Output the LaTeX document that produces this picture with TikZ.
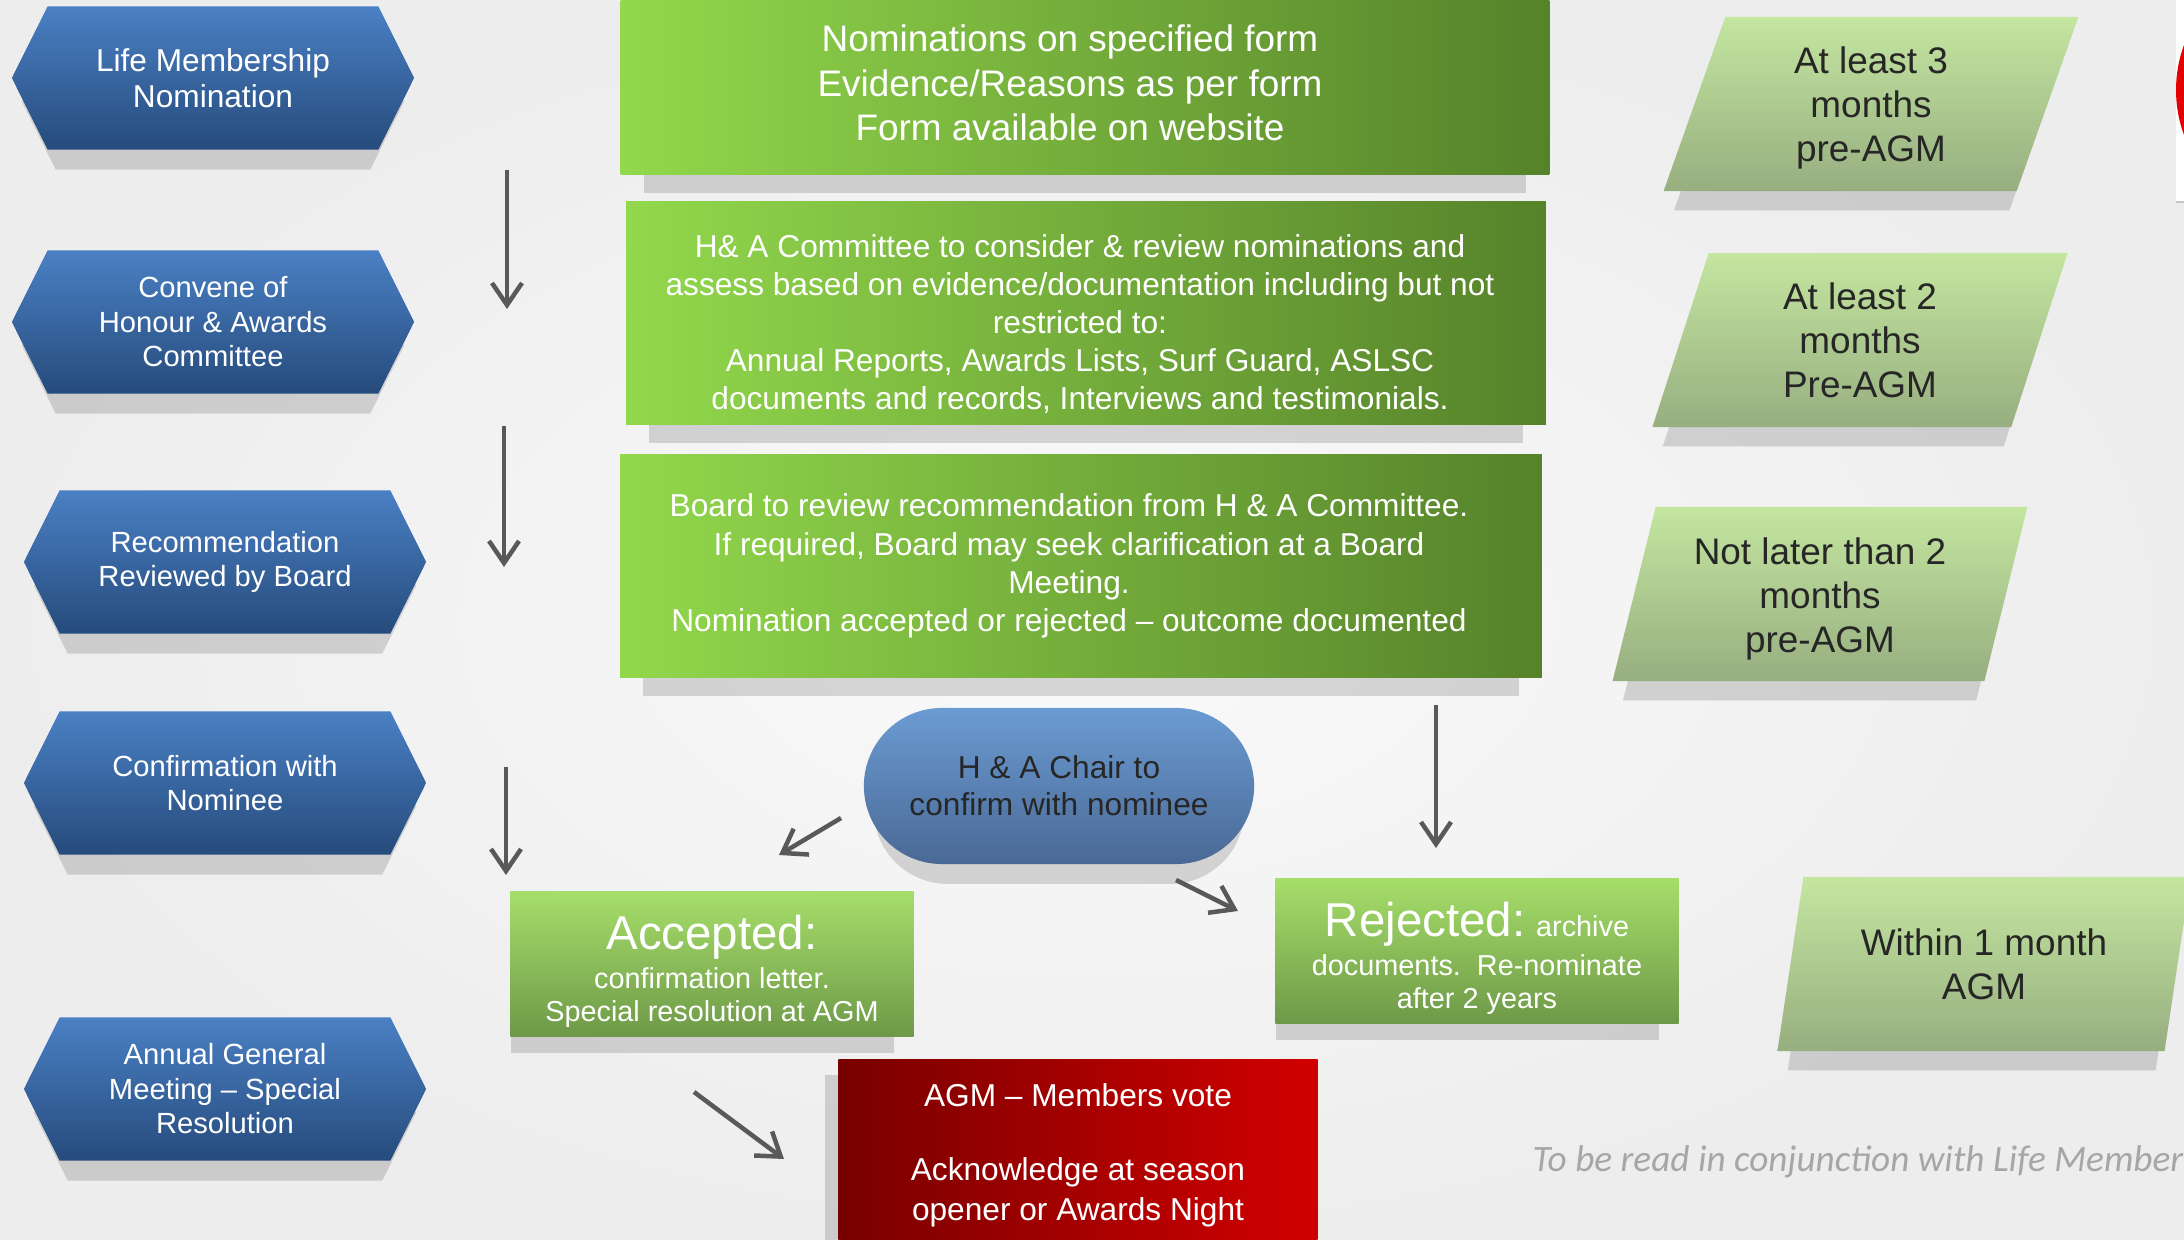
\documentclass[tikz,border=0pt]{standalone}
\usepackage{fontspec}
\setmainfont{Liberation Sans}
\newfontfamily\notefont{Carlito}
\usetikzlibrary{arrows.meta,shapes.symbols,shapes.geometric,shapes.misc,shadows}

\definecolor{hexTop}{HTML}{4A80C4}
\definecolor{hexBot}{HTML}{264B7C}
\definecolor{grLeft}{HTML}{92D84C}
\definecolor{grRight}{HTML}{56822A}
\definecolor{outTop}{HTML}{A6DE6A}
\definecolor{outBot}{HTML}{6E9948}
\definecolor{paraTop}{HTML}{C4E6A0}
\definecolor{paraBot}{HTML}{97AE80}
\definecolor{chairTop}{HTML}{6B9BD3}
\definecolor{chairBot}{HTML}{4A6995}
\definecolor{voteLeft}{HTML}{780000}
\definecolor{voteRight}{HTML}{D20000}
\definecolor{arrowGrey}{HTML}{595959}
\definecolor{textDark}{HTML}{262626}
\definecolor{noteGrey}{HTML}{A6A6A6}

\tikzset{
  softshadow/.style={drop shadow={shadow xshift=0cm, shadow yshift=-0.25cm, shadow scale=0.95, fill=black, opacity=0.14}},
  hexbox/.style={shape=signal, signal to=east and west, signal pointer angle=127,
    minimum width=4.02cm, minimum height=1.43cm, inner sep=0pt,
    top color=hexTop, bottom color=hexBot, text=white, align=center,
    font=\fontsize{8.3}{9.8}\selectfont, softshadow},
  stagebox/.style={rectangle, inner sep=0pt, left color=grLeft, right color=grRight, softshadow},
  stagetext/.style={inner sep=0pt, text=white, align=center},
  outcome/.style={rectangle, inner sep=0pt, minimum width=4.03cm, minimum height=1.44cm,
    top color=outTop, bottom color=outBot, text=white, align=center,
    font=\fontsize{8.2}{9.6}\selectfont,
    drop shadow={shadow xshift=-0.1cm, shadow yshift=-0.22cm, shadow scale=0.95, fill=black, opacity=0.14}},
  timebox/.style={trapezium, trapezium left angle=76, trapezium right angle=104,
    trapezium stretches=true, minimum width=4.16cm, minimum height=1.74cm, inner sep=0pt,
    top color=paraTop, bottom color=paraBot, text=textDark, align=center,
    font=\fontsize{10.5}{12.5}\selectfont, softshadow},
  chairbox/.style={rounded rectangle, minimum width=3.9cm, minimum height=1.56cm, inner sep=0pt,
    top color=chairTop, bottom color=chairBot, text=textDark, align=center,
    font=\fontsize{9}{10.6}\selectfont, softshadow},
  votebox/.style={rectangle, minimum width=4.79cm, minimum height=1.9cm, inner sep=0pt,
    left color=voteLeft, right color=voteRight, text=white, align=center,
    font=\fontsize{9}{11.2}\selectfont,
    drop shadow={shadow xshift=-0.13cm, shadow yshift=-0.15cm, fill=black, opacity=0.14}},
  flowarrow/.style={draw=arrowGrey, line width=0.045cm, -{Straight Barb[length=0.22cm, width=0.3cm]}},
}

\begin{document}
\begin{tikzpicture}[x=0.01cm, y=-0.01cm]
    \useasboundingbox (0,0) rectangle (2184,1240);
    \shade[inner color=gray!4, outer color=gray!14] (0,0) rectangle (2184,1240);

    % logo cut off at the right edge
    \fill[white] (2176,0) rectangle (2190,202);
    \draw[gray!45] (2176,202) -- (2190,202);
    \fill[red!90!black] (2306,90) circle[radius=130];

    % left column: stages
    \node[hexbox, font=\fontsize{9}{10.4}\selectfont] (nominate) at (213,78) {Life Membership\\Nomination};
    \node[hexbox] (convene) at (213,322) {Convene of\\Honour \& Awards\\Committee};
    \node[hexbox] (recommend) at (225,562) {Recommendation\\Reviewed by Board};
    \node[hexbox] (confirm) at (225,783) {Confirmation with\\Nominee};
    \node[hexbox] (agmres) at (225,1089) {Annual General\\Meeting – Special\\Resolution};

    % middle column: what happens
    \node[stagebox, minimum width=9.28cm, minimum height=1.76cm] (form) at (1085,86) {};
    \node[stagetext, font=\fontsize{10.5}{12.7}\selectfont] (formtext) at (1070,83)
        {Nominations on specified form\\Evidence/Reasons as per form\\Form available on website};
    \node[stagebox, minimum width=9.19cm, minimum height=2.23cm] (review) at (1086,313) {};
    \node[stagetext, font=\fontsize{9}{10.85}\selectfont] (reviewtext) at (1080,324)
        {H\& A Committee to consider \& review nominations and\\assess based on evidence/documentation including but not\\restricted to:\\Annual Reports, Awards Lists, Surf Guard, ASLSC\\documents and records, Interviews and testimonials.};
    \node[stagebox, minimum width=9.21cm, minimum height=2.23cm] (board) at (1081,566) {};
    \node[stagetext, font=\fontsize{9}{10.9}\selectfont] (boardtext) at (1069,566)
        {Board to review recommendation from H \& A Committee.\\If required, Board may seek clarification at a Board\\Meeting.\\Nomination accepted or rejected – outcome documented};

    \node[chairbox] (chair) at (1059,786) {H \& A Chair to\\confirm with nominee};
    \node[outcome] (accepted) at (712,964) {\rule{0pt}{14pt}{\fontsize{13.5}{15}\selectfont Accepted:}\\[1.4pt]confirmation letter.\\Special resolution at AGM};
    \node[outcome] (rejected) at (1477,951) {\rule{0pt}{14pt}{\fontsize{13.5}{15}\selectfont Rejected:} archive\\[1.4pt]documents.\ \ Re-nominate\\after 2 years};
    \node[votebox] (vote) at (1078,1155) {AGM – Members vote\\[10pt]Acknowledge at season\\opener or Awards Night};

    % right column: timing
    \node[timebox] (time3) at (1871,104) {\rule{0pt}{10pt}At least 3\\months\\pre-AGM};
    \node[timebox] (time2) at (1860,340) {At least 2\\months\\Pre-AGM};
    \node[timebox] (time1) at (1820,594) {\rule{0pt}{10.5pt}Not later than 2\\months\\pre-AGM};
    \node[timebox] (timeagm) at (1984,964) {Within 1 month\\AGM};

    \node[anchor=base west, inner sep=0pt, text=noteGrey, font=\notefont\itshape\fontsize{10.6}{12}\selectfont] (note) at (1532,1171)
        {To be read in conjunction with Life Member};

    % arrows
    \coordinate (a1s) at (507,170);  \coordinate (a1e) at (507,309);
    \coordinate (a2s) at (504,426);  \coordinate (a2e) at (504,567);
    \coordinate (a3s) at (506,767);  \coordinate (a3e) at (506,875);
    \coordinate (a4s) at (841,818);  \coordinate (a4e) at (779,855);
    \coordinate (a5s) at (1176,880); \coordinate (a5e) at (1238,911);
    \coordinate (a6s) at (1436,705); \coordinate (a6e) at (1436,848);
    \coordinate (a7s) at (694,1092); \coordinate (a7e) at (784,1159);
    \foreach \s/\e in {a1s/a1e, a2s/a2e, a3s/a3e, a4s/a4e, a5s/a5e, a6s/a6e, a7s/a7e}
        \draw[flowarrow] (\s) -- (\e);
\end{tikzpicture}
\end{document}
